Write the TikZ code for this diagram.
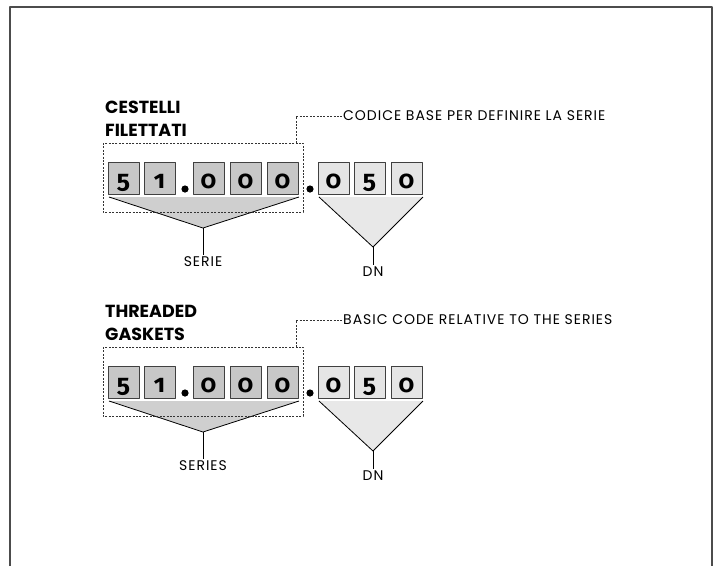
\documentclass[tikz,border=0pt]{standalone}
\usepackage{fontspec}
\setmainfont{Poppins}
\newfontfamily\digitfont[Numbers=OldStyle]{Fira Sans}
\newfontfamily\notefont[LetterSpace=7]{Poppins}
\usetikzlibrary{positioning}
\definecolor{cellA}{gray}{0.78}
\definecolor{cellB}{gray}{0.9}
\definecolor{wedgeA}{gray}{0.81}
\definecolor{wedgeB}{gray}{0.91}
\definecolor{frameC}{gray}{0.3}

\begin{document}
\begin{tikzpicture}[x=1pt, y=-1pt, line join=round, font=\notefont\fontsize{14}{16}\selectfont,
	cell/.style={draw=black!75, line width=.8pt, minimum width=31pt, inner sep=0pt,
		text height=26pt, text depth=6pt, font=\digitfont\bfseries\fontsize{25}{25}\selectfont},
	leader/.style={draw=black!80, line width=.8pt, dash pattern=on 2pt off 1.4pt},
	heading/.style={anchor=base west, inner sep=0pt, font=\bfseries\fontsize{17.5}{17.5}\selectfont},
	note/.style={anchor=west, inner sep=1pt},
	tag/.style={inner sep=1.5pt}]
	\useasboundingbox (0,0) rectangle (718,566);
	\draw[frameC, line width=1.3pt] (10,566)--(10,7)--(712,7)--(712,566);
	\foreach \oy/\ta/\tb/\txt/\ser in {0/CESTELLI/FILETTATI/CODICE BASE PER DEFINIRE LA SERIE/SERIE,
		204/THREADED/GASKETS/BASIC CODE RELATIVE TO THE SERIES/SERIES}{
	\begin{scope}[yshift=-\oy pt]
		\node[heading] (ta) at (105,113) {\ta};
		\node[heading] (tb) at (105,136) {\tb};
		\path
		(109,197) coordinate (L1) (299,197) coordinate (R1) (203,228) coordinate (A1)
		(319,197) coordinate (L2) (423,197) coordinate (R2) (373,247) coordinate (A2)
		(296,143) coordinate (K)
		;
		\foreach \d/\x [count=\n] in {5/108,1/144,0/193,0/230,0/267}
			\node[cell, fill=cellA] (c\n) at (\x+15.5,178) {\d};
		\foreach \d/\x [count=\n from 6] in {0/318,5/354,0/391}
			\node[cell, fill=cellB] (c\n) at (\x+15.5,178) {\d};
		\fill (185,189) circle (3.6) (310,189) circle (3.6);
		\fill[wedgeA] (L1)--(A1)--(R1)--cycle;
		\fill[wedgeB] (L2)--(A2)--(R2)--cycle;
		\draw[line width=.8pt] (L1)--(A1)--(R1) (L2)--(A2)--(R2);
		\draw[leader] (103,143) rectangle (303,212);
		\node[note] (info) at (342,116) {\txt};
		\draw[leader] (K) |- (info);
		\node[tag] (s) at (203,262) {\ser};
		\node[tag] (dn) at (373,272) {DN};
		\draw[line width=.8pt] (A1)--(s) (A2)--(dn);
	\end{scope}
	}
\end{tikzpicture}
\end{document}
